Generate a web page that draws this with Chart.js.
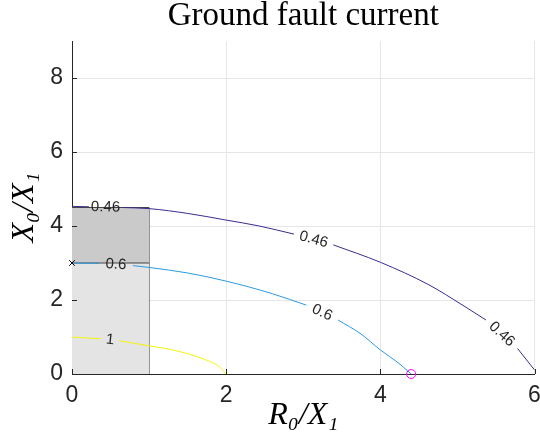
<!DOCTYPE html>
<html>
<head>
<meta charset="utf-8">
<script src="https://cdn.jsdelivr.net/npm/chart.js@4"></script>
<style>
    html, body { margin: 0; padding: 0; background: #fff; }
</style>
</head>
<body>
<canvas id="chart" width="540" height="445"></canvas>
<script>
/* ── Data ──────────────────────────────────────────────────── */
// contour levels, traced as R0/X1 (x) vs X0/X1 (y); null = gap where the inline label sits
const levelNames = ['0.46', '0.6', '1'];

const c046X = [0, 0.22, null, 0.65, 1.0, 1.5, 2.0, 2.43, 2.88, null, 3.39, 4.0, 4.63, 5.06, 5.37, null, 5.78, 6.0];
const c046Y = [4.53, 4.52, null, 4.50, 4.47, 4.34, 4.16, 4.0, 3.78, null, 3.49, 3.02, 2.41, 1.87, 1.46, null, 0.69, 0.11];

const c06X = [0, 0.35, null, 0.79, 1.0, 1.5, 2.0, 2.6, 3.04, null, 3.45, 3.75, 4.0, 4.24, 4.4];
const c06Y = [3.0, 2.99, null, 2.93, 2.88, 2.73, 2.51, 2.17, 1.86, null, 1.46, 1.08, 0.65, 0.29, 0.0];

const c1X = [0, 0.38, null, 0.61, 1.0, 1.31, 1.74, 1.91, 2.0];
const c1Y = [1.0, 0.95, null, 0.90, 0.76, 0.65, 0.38, 0.2, 0.0];

// shaded region: R0/X1 from 0 to 1, lower band up to 3, upper band up to 4.5
const bandX = [0, 1];
const bandLowTop = [3, 3];
const bandHighTop = [4.5, 4.5];

// markers
const crossPoint = [0, 3];
const circlePoint = [4.4, 0];

// axis ticks
const xTicks = [0, 2, 4, 6];
const yTicks = [0, 2, 4, 6, 8];

/* ── Helpers ───────────────────────────────────────────────── */
const pts = (xs, ys) => xs.map((x, i) => (x === null ? { x: null, y: null } : { x, y: ys[i] }));

const axisColor = '#262626';
const gridColor = '#e6e6e6';
const serif = '"Liberation Serif", "DejaVu Serif", serif';

// MATLAB-style ticks drawn inward + contour labels in the line gaps
const matlabBits = {
    id: 'matlabBits',
    afterDatasetsDraw(chart) {
        const { ctx, scales: { x, y } } = chart;
        ctx.save();
        // contour labels
        chart.data.datasets.forEach(ds => {
            if (!ds.labelText) return;
            const d = ds.data;
            for (let i = 1; i < d.length - 1; i++) {
                if (d[i].x !== null) continue;
                const a = d[i - 1], b = d[i + 1];
                const ax = x.getPixelForValue(a.x), ay = y.getPixelForValue(a.y);
                const bx = x.getPixelForValue(b.x), by = y.getPixelForValue(b.y);
                ctx.save();
                ctx.translate((ax + bx) / 2, (ay + by) / 2);
                ctx.rotate(Math.atan2(by - ay, bx - ax));
                ctx.font = '15px "Liberation Sans", Arial, sans-serif';
                ctx.fillStyle = axisColor;
                ctx.textAlign = 'center';
                ctx.textBaseline = 'middle';
                ctx.fillText(ds.labelText, 0, 0);
                ctx.restore();
            }
        });
        // inward ticks
        ctx.strokeStyle = axisColor;
        ctx.lineWidth = 1;
        ctx.beginPath();
        x.ticks.forEach(t => {
            const px = Math.round(x.getPixelForValue(t.value)) + 0.5;
            ctx.moveTo(px, y.bottom);
            ctx.lineTo(px, y.bottom - 5);
        });
        y.ticks.forEach(t => {
            const py = Math.round(y.getPixelForValue(t.value)) + 0.5;
            ctx.moveTo(x.left, py);
            ctx.lineTo(x.left + 5, py);
        });
        ctx.stroke();
        ctx.restore();
    }
};

Chart.defaults.font.family = '"Liberation Sans", Arial, sans-serif';

const curve = (xs, ys, name, color) => ({
    data: pts(xs, ys), labelText: name, borderColor: color, borderWidth: 1, pointRadius: 0,
    fill: false, cubicInterpolationMode: 'monotone', spanGaps: false, order: 5
});

new Chart(document.getElementById('chart'), {
    type: 'line',
    data: {
        datasets: [
            { data: pts(bandX, bandLowTop), fill: { value: 0 }, backgroundColor: '#e4e4e4', borderColor: '#454545', borderWidth: 1, pointRadius: 0, order: 10 },
            { data: pts(bandX, bandHighTop), fill: '-1', backgroundColor: '#cacaca', borderColor: '#454545', borderWidth: 1, pointRadius: 0, order: 10 },
            { data: pts([bandX[1], bandX[1]], [0, bandHighTop[1]]), borderColor: '#454545', borderWidth: 1, pointRadius: 0, fill: false, order: 10 },
            curve(c1X, c1Y, levelNames[2], '#f4f40c'),
            curve(c06X, c06Y, levelNames[1], '#2a9be0'),
            curve(c046X, c046Y, levelNames[0], '#3b2d8e'),
            { data: [{ x: crossPoint[0], y: crossPoint[1] }], showLine: false, pointStyle: 'crossRot', pointRadius: 4, borderColor: '#000', borderWidth: 1, clip: false, order: 0 },
            { data: [{ x: circlePoint[0], y: circlePoint[1] }], showLine: false, pointStyle: 'circle', pointRadius: 4.5, borderColor: '#ff00ff', backgroundColor: 'rgba(0,0,0,0)', borderWidth: 1, clip: false, order: 0 }
        ]
    },
    options: {
        responsive: false,
        animation: false,
        layout: { padding: { right: 4 } },
        plugins: {
            legend: { display: false },
            tooltip: { enabled: false },
            title: {
                display: true,
                text: 'Ground fault current',
                fullSize: false,
                color: '#000',
                font: { family: serif, size: 33, weight: 'normal', lineHeight: 0.8 },
                padding: { top: 3, bottom: 11.6 }
            }
        },
        scales: {
            x: {
                type: 'linear', min: 0, max: 6,
                afterBuildTicks: s => { s.ticks = xTicks.map(v => ({ value: v })); },
                ticks: { color: axisColor, font: { size: 23 }, padding: 8 },
                grid: { color: gridColor, drawTicks: false, tickLength: 0 },
                border: { color: axisColor, width: 1 },
                title: { display: true, text: 'R₀/X₁', color: '#000', font: { family: serif, style: 'italic', size: 32 }, padding: { top: 0, bottom: 10 } },
                afterFit: s => { s.height = 71; s.paddingLeft = 0; s.paddingRight = 0; }
            },
            y: {
                type: 'linear', min: 0, max: 9,
                afterBuildTicks: s => { s.ticks = yTicks.map(v => ({ value: v })); },
                ticks: { color: axisColor, font: { size: 23 }, padding: 9 },
                grid: { color: gridColor, drawTicks: false, tickLength: 0 },
                border: { color: axisColor, width: 1 },
                title: { display: true, text: 'X₀/X₁', color: '#000', font: { family: serif, style: 'italic', size: 32 }, padding: { top: 5, bottom: 0 } },
                afterFit: s => { s.width = 72; s.paddingTop = 0; s.paddingBottom = 0; }
            }
        }
    },
    plugins: [matlabBits]
});
</script>
</body>
</html>
